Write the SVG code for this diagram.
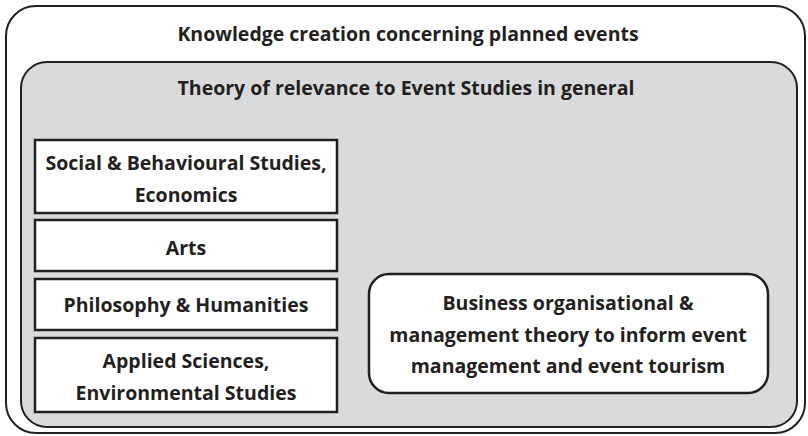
<svg xmlns="http://www.w3.org/2000/svg" width="808" height="436" viewBox="0 0 808 436">
  <style>
    .frame { fill: #ffffff; stroke: #231f20; stroke-width: 2; }
    .panel { fill: #d9dadb; stroke: #231f20; stroke-width: 2; }
    .box { fill: #ffffff; stroke: #231f20; stroke-width: 2.5; }
    .lbl { font-family: "Open Sans", "Noto Sans", sans-serif; font-weight: 700; font-size: 19.5px; fill: #231f20; text-anchor: middle; }
  </style>

  <!-- outer frame -->
  <g id="knowledge-creation">
    <rect class="frame" x="6" y="6" width="799" height="427" rx="30" ry="30"/>
    <text class="lbl" x="408" y="41">Knowledge creation concerning planned events</text>
  </g>

  <!-- grey panel -->
  <g id="theory-general">
    <rect class="panel" x="21" y="62" width="776" height="365" rx="26" ry="26"/>
    <text class="lbl" x="406" y="95">Theory of relevance to Event Studies in general</text>
  </g>

  <g id="social-behavioural">
    <rect class="box" x="35" y="140" width="302" height="73"/>
    <text class="lbl" x="186" y="170">Social &amp; Behavioural Studies,</text>
    <text class="lbl" x="186" y="202">Economics</text>
  </g>

  <g id="arts">
    <rect class="box" x="35" y="220" width="302" height="51"/>
    <text class="lbl" x="186" y="255">Arts</text>
  </g>

  <g id="philosophy">
    <rect class="box" x="35" y="279" width="302" height="51"/>
    <text class="lbl" x="186" y="312">Philosophy &amp; Humanities</text>
  </g>

  <g id="applied-sciences">
    <rect class="box" x="35" y="338" width="302" height="74"/>
    <text class="lbl" x="186" y="368">Applied Sciences,</text>
    <text class="lbl" x="186" y="400">Environmental Studies</text>
  </g>

  <g id="business">
    <rect class="box" x="369" y="274" width="399" height="119" rx="20" ry="20"/>
    <text class="lbl" x="568" y="310">Business organisational &amp;</text>
    <text class="lbl" x="568" y="342">management theory to inform event</text>
    <text class="lbl" x="568" y="373">management and event tourism</text>
  </g>

  <g id="connectors"/>
</svg>
